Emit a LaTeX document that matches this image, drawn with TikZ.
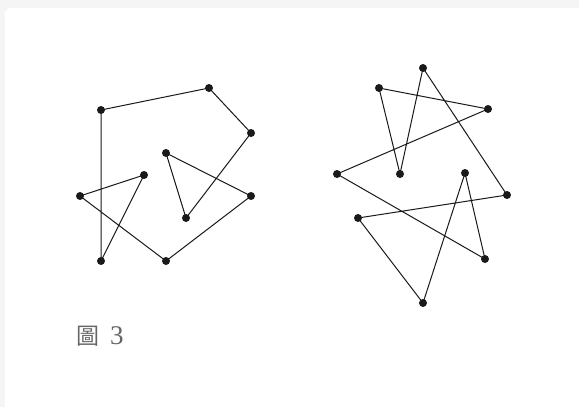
\documentclass[tikz,border=0pt]{standalone}
\usepackage{fontspec}
\setmainfont{Liberation Serif}
\newfontfamily\cjk{Noto Sans CJK TC}
\definecolor{bgshade}{HTML}{F5F5F5}
\definecolor{labelgray}{HTML}{666666}
\definecolor{ink}{HTML}{1A1A1A}
\tikzset{
  pt/.style={circle,fill=ink,inner sep=0pt,minimum size=8pt},
  edge/.style={draw=ink,line width=1pt},
}
\begin{document}
\begin{tikzpicture}[x=1pt,y=-1pt]
\useasboundingbox (0,0) rectangle (579,407);
\fill[bgshade] (0,0) rectangle (579,407);
\fill[white,rounded corners=6pt] (5,8) rectangle (590,420);
% left figure
\node[pt] (a) at (101,110) {};
\node[pt] (b) at (209,88) {};
\node[pt] (c) at (251,133) {};
\node[pt] (d) at (166,153) {};
\node[pt] (e) at (144,175) {};
\node[pt] (f) at (80,196) {};
\node[pt] (g) at (251,196) {};
\node[pt] (h) at (186,218) {};
\node[pt] (i) at (101,261) {};
\node[pt] (j) at (166,261) {};
\draw[edge] (a.center) -- (b.center) -- (c.center) -- (h.center) -- (d.center) -- (g.center) -- (j.center) -- (f.center) -- (e.center) -- (i.center) -- cycle;
% right figure
\node[pt] (p1) at (423,68) {};
\node[pt] (p2) at (379,88) {};
\node[pt] (p3) at (488,109) {};
\node[pt] (p4) at (337,174) {};
\node[pt] (p5) at (400,174) {};
\node[pt] (p6) at (465,173) {};
\node[pt] (p7) at (507,195) {};
\node[pt] (p8) at (358,218) {};
\node[pt] (p9) at (485,259) {};
\node[pt] (p10) at (423,303) {};
\draw[edge] (p1.center) -- (p5.center) -- (p2.center) -- (p3.center) -- (p4.center) -- (p9.center) -- (p6.center) -- (p10.center) -- (p8.center) -- (p7.center) -- cycle;
% label
\node[anchor=base west,inner sep=0pt,text=labelgray] (lbl) at (76,344) {{\cjk\fontsize{23pt}{26pt}\selectfont 圖}\hspace{11pt}{\fontsize{27pt}{30pt}\selectfont 3}};
\end{tikzpicture}
\end{document}
